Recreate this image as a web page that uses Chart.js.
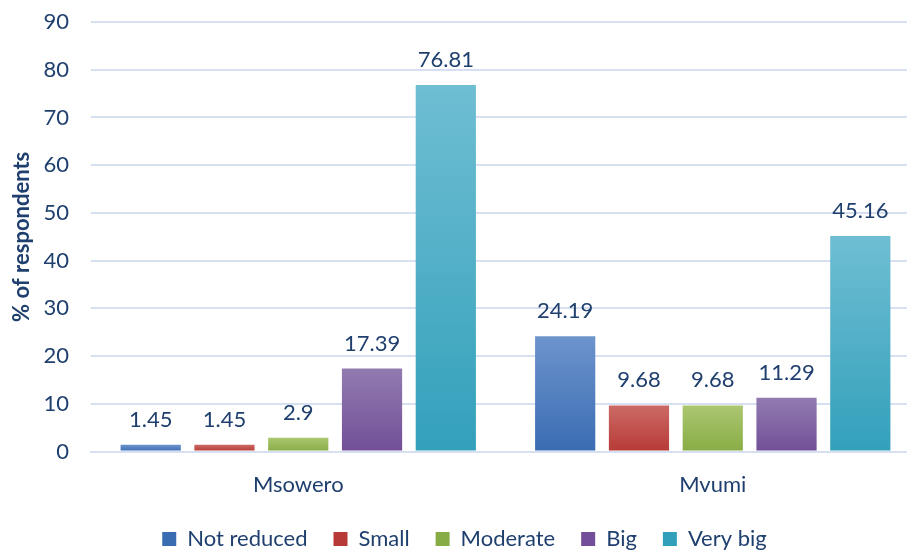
<!DOCTYPE html>
<html>
<head>
<meta charset="utf-8">
<script src="https://cdn.jsdelivr.net/npm/chart.js@4"></script>
<style>
    html, body { margin: 0; padding: 0; background: #fff; overflow: hidden; }
    #wrap { position: relative; width: 920px; height: 560px; }
</style>
</head>
<body>
<div id="wrap"><canvas id="chart"></canvas></div>
<script>
// data
const categories = ['Msowero', 'Mvumi'];
const seriesNames = ['Not reduced', 'Small', 'Moderate', 'Big', 'Very big'];
const notReduced = [1.45, 24.19];
const small = [1.45, 9.68];
const moderate = [2.9, 9.68];
const big = [17.39, 11.29];
const veryBig = [76.81, 45.16];
const yTicks = [0, 10, 20, 30, 40, 50, 60, 70, 80, 90];

// colours: [top, bottom] of the gradient
const palette = [
    ['#6d94cd', '#3a6cb2'],
    ['#cc6a65', '#b73a36'],
    ['#abc770', '#88ac45'],
    ['#927bb0', '#724f98'],
    ['#6fbed3', '#33a0bb']
];

const textColor = '#1f3f6e';
const fontFamily = 'Lato, "Open Sans", sans-serif';
const fontSize = 22;

// 每根柱子自己的渐变
const barGradient = (idx) => (ctx) => {
    const chart = ctx.chart;
    const cols = palette[idx];
    if (!chart.chartArea || ctx.type !== 'data') return cols[1];
    const yScale = chart.scales.y;
    const top = yScale.getPixelForValue(ctx.raw);
    const bottom = yScale.getPixelForValue(0);
    if (!isFinite(top) || !isFinite(bottom) || bottom - top < 1) return cols[1];
    const g = chart.ctx.createLinearGradient(0, top, 0, bottom);
    g.addColorStop(0, cols[0]);
    g.addColorStop(1, cols[1]);
    return g;
};

// 数值标签
const valueLabels = {
    id: 'valueLabels',
    afterDatasetsDraw(chart) {
        const ctx = chart.ctx;
        ctx.save();
        ctx.font = fontSize + 'px ' + fontFamily;
        ctx.fillStyle = textColor;
        ctx.textAlign = 'center';
        ctx.textBaseline = 'alphabetic';
        chart.data.datasets.forEach((ds, i) => {
            const meta = chart.getDatasetMeta(i);
            meta.data.forEach((el, j) => {
                ctx.fillText(String(ds.data[j]), el.x, el.y - 18);
            });
        });
        ctx.restore();
    }
};

const seriesData = [notReduced, small, moderate, big, veryBig];

new Chart(document.getElementById('chart'), {
    type: 'bar',
    data: {
        labels: categories,
        datasets: seriesNames.map((name, i) => ({
            label: name,
            data: seriesData[i],
            backgroundColor: barGradient(i),
            borderWidth: 0,
            categoryPercentage: 0.89,
            barPercentage: 0.816
        }))
    },
    options: {
        responsive: true,
        maintainAspectRatio: false,
        animation: false,
        layout: { padding: { top: 22, right: 0, left: 9, bottom: 0 } },
        plugins: {
            legend: {
                position: 'bottom',
                labels: {
                    color: textColor,
                    font: { family: fontFamily, size: fontSize },
                    boxWidth: 14,
                    boxHeight: 14,
                    padding: 26,
                    generateLabels(chart) {
                        return seriesNames.map((name, i) => ({
                            text: name,
                            fillStyle: palette[i][1],
                            strokeStyle: palette[i][1],
                            lineWidth: 0,
                            hidden: false,
                            datasetIndex: i,
                            fontColor: textColor
                        }));
                    }
                }
            },
            tooltip: { enabled: false }
        },
        scales: {
            x: {
                grid: { display: false, drawTicks: false },
                border: { color: '#d6e0f0', width: 2 },
                ticks: {
                    color: textColor,
                    font: { family: fontFamily, size: fontSize },
                    padding: 20
                },
                afterFit(axis) {
                    axis.height -= 16;
                }
            },
            y: {
                min: 0,
                max: 90,
                afterBuildTicks(axis) {
                    axis.ticks = yTicks.map(v => ({ value: v }));
                },
                afterFit(axis) {
                    axis.width = 82;
                    axis.paddingTop = 0;
                },
                grid: { color: '#d6e0f0', lineWidth: 2, drawTicks: false },
                border: { display: false },
                ticks: {
                    color: textColor,
                    font: { family: fontFamily, size: fontSize },
                    padding: 22
                },
                title: {
                    display: true,
                    text: '% of respondents',
                    color: textColor,
                    font: { family: fontFamily, size: fontSize, weight: 'bold' },
                    padding: { top: 0, bottom: 0 }
                }
            }
        }
    },
    plugins: [valueLabels]
});
</script>
</body>
</html>
